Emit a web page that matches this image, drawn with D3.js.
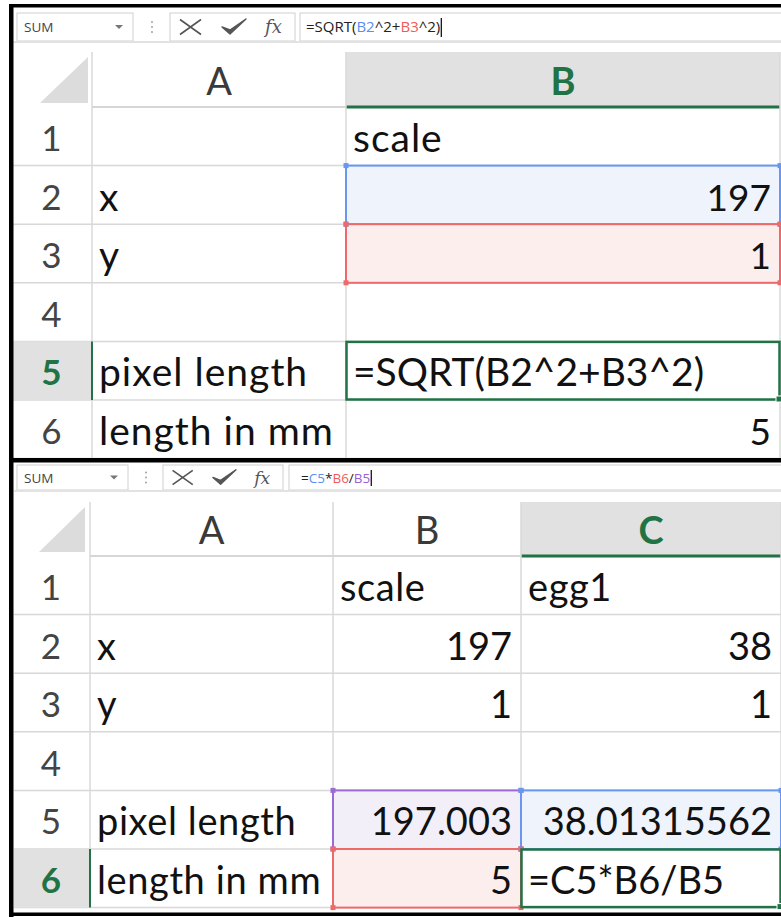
<!DOCTYPE html>
<html><head><meta charset="utf-8">
<script src="https://cdn.jsdelivr.net/npm/d3@7"></script>
<style>html,body{margin:0;padding:0;background:#fff;}svg{display:block;}</style>
</head><body>
<script>
// ---------------- DATA ----------------
const rowLabels = ["1", "2", "3", "4", "5", "6"];
const labelsA = ["", "x", "y", "", "pixel length", "length in mm"];
const topColB = ["scale", "197", "1", "", "=SQRT(B2^2+B3^2)", "5"];
const bottomColB = ["scale", "197", "1", "", "197.003", "5"];
const bottomColC = ["egg1", "38", "1", "", "38.01315562", "=C5*B6/B5"];
const topFormula = [["=SQRT(", "k"], ["B2", "b"], ["^2+", "k"], ["B3", "r"], ["^2)", "k"]];
const bottomFormula = [["=", "k"], ["C5", "b"], ["*", "k"], ["B6", "r"], ["/", "k"], ["B5", "p"]];
const nameBoxText = "SUM";

// ---------------- STYLE / LAYOUT ----------------
const W = 781, H = 917;
const green = "#217346", grid = "#d8d8d8", hdrFill = "#e1e1e1";
const refCol = { k: "#222", b: "#5a8ef0", r: "#f05a5a", p: "#9a5fd3" };
const rangeStyle = {
  b: { stroke: "#6797ee", fill: "#eef3fc" },
  r: { stroke: "#ee6a6a", fill: "#fdeeee" },
  p: { stroke: "#9a6ad6", fill: "#f3eff9" }
};
const cellFont = "Lato, 'Open Sans', sans-serif";
const uiFont = "'Open Sans', 'Noto Sans', sans-serif";
const isNum = v => v !== "" && !isNaN(+v);

const svg = d3.select("body").append("svg").attr("width", W).attr("height", H);
svg.append("rect").attr("width", W).attr("height", H).attr("fill", "#fff");

function panel(cfg) {
  const g = svg.append("g");
  const y = d3.scaleBand().domain(rowLabels).range([cfg.rowTop, cfg.rowTop + 6 * 58.6]);
  const cols = cfg.cols;
  const colX = d3.scaleOrdinal().domain(cols.map(c => c.name)).range(cols.map(c => c.x0));
  const colX1 = d3.scaleOrdinal().domain(cols.map(c => c.name)).range(cols.map(c => c.x1));

  // ---- formula bar ----
  const fb = cfg.fb;
  g.append("rect").attr("x", fb.nameX).attr("y", fb.y).attr("width", fb.nameW).attr("height", fb.h)
    .attr("fill", "#fff").attr("stroke", "#d0d0d0");
  g.append("text").attr("x", fb.nameX + 7).attr("y", fb.y + fb.h / 2 + 5).attr("font-family", uiFont)
    .attr("font-size", 13.5).attr("fill", "#444").text(nameBoxText);
  const ax = fb.nameX + fb.nameW - 14, ay = fb.y + fb.h / 2;
  g.append("path").attr("d", `M${ax - 4},${ay - 2}L${ax + 4},${ay - 2}L${ax},${ay + 2}Z`).attr("fill", "#777");
  [-5, 0, 5].forEach(d => g.append("circle").attr("cx", fb.dotsX).attr("cy", ay + d).attr("r", 0.9).attr("fill", "#999"));
  g.append("rect").attr("x", fb.btnX).attr("y", fb.y).attr("width", fb.btnW).attr("height", fb.h)
    .attr("fill", "#fff").attr("stroke", "#d0d0d0");
  const bx = fb.btnX, cy = ay, s = fb.btnW / 125;
  g.append("path").attr("d", `M${bx + 10 * s},${cy - 7.5 * s}L${bx + 31 * s},${cy + 7.5 * s}M${bx + 31 * s},${cy - 7.5 * s}L${bx + 10 * s},${cy + 7.5 * s}`)
    .attr("stroke", "#555").attr("stroke-width", 1.6).attr("fill", "none");
  g.append("path").attr("d", `M${bx + 52 * s},${cy}L${bx + 60 * s},${cy + 7 * s}L${bx + 76 * s},${cy - 8 * s}L${bx + 60 * s},${cy + 3 * s}Z`)
    .attr("fill", "#555").attr("stroke", "#555").attr("stroke-width", 1.4).attr("stroke-linejoin", "round");
  g.append("text").attr("x", bx + 95 * s).attr("y", cy + 6).attr("font-family", "'DejaVu Serif', serif")
    .attr("font-style", "italic").attr("font-size", 18 * s).attr("fill", "#555").text("fx");
  g.append("rect").attr("x", fb.fX).attr("y", fb.y).attr("width", W - fb.fX + 2).attr("height", fb.h)
    .attr("fill", "#fff").attr("stroke", "#d0d0d0");
  const ft = g.append("text").attr("x", fb.fX + fb.fPad).attr("y", fb.y + fb.h / 2 + 5).attr("font-family", uiFont)
    .attr("font-size", cfg.fbFont);
  cfg.formula.forEach(([t, c]) => ft.append("tspan").attr("fill", refCol[c]).text(t));
  const fw = ft.node().getComputedTextLength();
  g.append("line").attr("x1", fb.fX + fb.fPad + 1 + fw).attr("x2", fb.fX + fb.fPad + 1 + fw).attr("y1", fb.y + 5).attr("y2", fb.y + fb.h - 4)
    .attr("stroke", "#000").attr("stroke-width", 1.2);
  g.append("line").attr("x1", cfg.left).attr("x2", W).attr("y1", fb.y + fb.h + 1).attr("y2", fb.y + fb.h + 1)
    .attr("stroke", "#e2e2e2").attr("stroke-width", 2);

  // ---- column headers ----
  const hTop = cfg.hdrTop, hBot = cfg.rowTop;
  cols.forEach(c => {
    const sel = c.name === cfg.activeCol;
    g.append("rect").attr("x", colX(c.name)).attr("y", hTop).attr("width", colX1(c.name) - colX(c.name))
      .attr("height", hBot - hTop).attr("fill", sel ? hdrFill : "#fff");
    g.append("text").attr("x", (colX(c.name) + colX1(c.name)) / 2).attr("y", hBot - 12)
      .attr("text-anchor", "middle").attr("font-family", cellFont).attr("font-size", 38)
      .attr("font-weight", sel ? 700 : 400).attr("fill", sel ? green : "#3a3a3a").text(c.name);
    g.append("line").attr("x1", colX(c.name)).attr("x2", colX1(c.name)).attr("y1", hBot).attr("y2", hBot)
      .attr("stroke", sel ? green : "#c8c8c8").attr("stroke-width", sel ? 3 : 1.5);
  });
  const t = cfg.tri;
  g.append("path").attr("d", `M${t[0]},${t[3]}L${t[2]},${t[1]}L${t[2]},${t[3]}Z`).attr("fill", "#dcdcdc");

  // ---- grid ----
  rowLabels.forEach(r => {
    g.append("line").attr("x1", cfg.hdrX0).attr("x2", W).attr("y1", y(r) + y.bandwidth()).attr("y2", y(r) + y.bandwidth())
      .attr("stroke", grid).attr("stroke-width", 1.5);
  });
  [cfg.hdrX1].concat(cols.map(c => c.x1)).forEach(x => {
    g.append("line").attr("x1", x).attr("x2", x).attr("y1", hTop).attr("y2", cfg.rowTop + 6 * 58.6)
      .attr("stroke", grid).attr("stroke-width", 1.5);
  });

  // ---- row headers ----
  rowLabels.forEach(r => {
    const sel = r === cfg.activeRow;
    if (sel) {
      g.append("rect").attr("x", cfg.hdrX0).attr("y", y(r)).attr("width", cfg.hdrX1 - cfg.hdrX0).attr("height", y.bandwidth())
        .attr("fill", hdrFill);
      g.append("line").attr("x1", cfg.hdrX1).attr("x2", cfg.hdrX1).attr("y1", y(r)).attr("y2", y(r) + y.bandwidth())
        .attr("stroke", green).attr("stroke-width", 2);
    }
    g.append("text").attr("x", (cfg.hdrX0 + cfg.hdrX1) / 2 - 1).attr("y", y(r) + 44).attr("text-anchor", "middle")
      .attr("font-family", cellFont).attr("font-size", 35).attr("font-weight", sel ? 700 : 400)
      .attr("fill", sel ? green : "#444").text(r);
  });

  // ---- highlighted reference ranges ----
  cfg.ranges.forEach(rg => {
    const st = rangeStyle[rg.c];
    const x0 = colX(rg.col), x1 = colX1(rg.col), y0 = y(rg.row), y1 = y0 + y.bandwidth();
    g.append("rect").attr("x", x0).attr("y", y0).attr("width", x1 - x0).attr("height", y1 - y0)
      .attr("fill", st.fill).attr("stroke", st.stroke).attr("stroke-width", 2);
  });
  cfg.ranges.forEach(rg => {
    const st = rangeStyle[rg.c];
    const x0 = colX(rg.col), x1 = colX1(rg.col), y0 = y(rg.row), y1 = y0 + y.bandwidth();
    [[x0, y0], [x1, y0], [x0, y1], [x1, y1]].forEach(([px, py]) =>
      g.append("rect").attr("x", px - 2.5).attr("y", py - 2.5).attr("width", 5).attr("height", 5).attr("fill", st.stroke));
  });
  {
    const x0 = colX(cfg.activeCol), x1 = colX1(cfg.activeCol), y0 = y(cfg.activeRow), y1 = y0 + y.bandwidth();
    g.append("rect").attr("x", x0 + 0.5).attr("y", y0 + 0.5).attr("width", x1 - x0 - 1).attr("height", y1 - y0 - 1)
      .attr("fill", "#fff").attr("stroke", green).attr("stroke-width", 2.5);
    g.append("rect").attr("x", x1 - 4).attr("y", y1 - 4).attr("width", 6).attr("height", 6).attr("fill", green)
      .attr("stroke", "#fff").attr("stroke-width", 1);
  }

  // ---- cell text ----
  cols.forEach(c => {
    c.values.forEach((v, i) => {
      if (v === "") return;
      const r = rowLabels[i], num = isNum(v), formula = v.startsWith("=");
      g.append("text").attr("x", num ? colX1(c.name) - 9 : colX(c.name) + 7).attr("y", y(r) + 45)
        .attr("text-anchor", num ? "end" : "start").attr("font-family", cellFont)
        .attr("font-size", num ? cfg.numSize : cfg.textSize).attr("letter-spacing", num || formula ? 0 : cfg.ls)
        .attr("fill", "#111").text(v);
    });
  });

  g.append("rect").attr("x", 9).attr("y", cfg.frameTop).attr("width", 4.5).attr("height", cfg.frameBot - cfg.frameTop).attr("fill", "#000");
}

panel({
  rowTop: 107, hdrTop: 52, hdrX0: 13, hdrX1: 92, left: 13,
  fb: { y: 13, h: 28, nameX: 17, nameW: 116, dotsX: 152, btnX: 170, btnW: 125, fX: 300, fPad: 6 },
  fbFont: 15, formula: topFormula, textSize: 39, numSize: 37, ls: 1.0,
  tri: [40, 57, 88, 103],
  cols: [{ name: "A", x0: 92, x1: 346, values: labelsA }, { name: "B", x0: 346, x1: 780, values: topColB }],
  activeCol: "B", activeRow: "5",
  ranges: [{ col: "B", row: "2", c: "b" }, { col: "B", row: "3", c: "r" }],
  frameTop: 4, frameBot: 462
});
panel({
  rowTop: 556, hdrTop: 502, hdrX0: 14, hdrX1: 90, left: 14,
  fb: { y: 465, h: 25, nameX: 17, nameW: 111, dotsX: 146, btnX: 163, btnW: 120, fX: 289, fPad: 12 },
  fbFont: 13.5, formula: bottomFormula, textSize: 38, numSize: 38, ls: 0.6,
  tri: [39, 507, 85, 552],
  cols: [{ name: "A", x0: 90, x1: 333, values: labelsA }, { name: "B", x0: 333, x1: 521, values: bottomColB },
         { name: "C", x0: 521, x1: 781, values: bottomColC }],
  activeCol: "C", activeRow: "6",
  ranges: [{ col: "B", row: "5", c: "p" }, { col: "C", row: "5", c: "b" }, { col: "B", row: "6", c: "r" }],
  frameTop: 458, frameBot: 917
});
svg.append("rect").attr("x", 9).attr("y", 4).attr("width", W).attr("height", 3.5).attr("fill", "#000");
svg.append("rect").attr("x", 9).attr("y", 458).attr("width", W).attr("height", 4.5).attr("fill", "#000");
svg.append("rect").attr("x", 9).attr("y", 912.5).attr("width", W).attr("height", 3.5).attr("fill", "#000");
</script>
</body></html>
